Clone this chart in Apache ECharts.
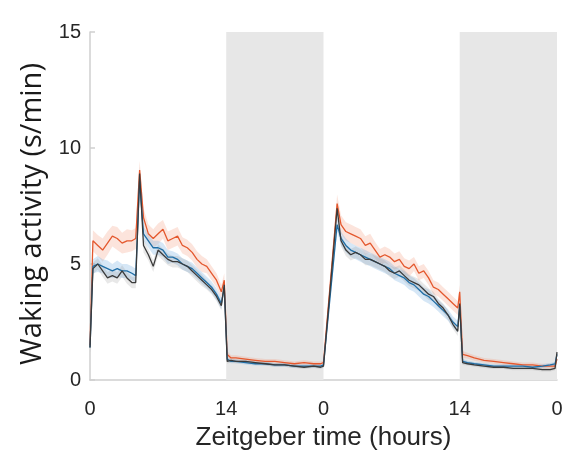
<!DOCTYPE html>
<html>
<head>
<meta charset="utf-8">
<script src="https://cdn.jsdelivr.net/npm/echarts@6/dist/echarts.min.js"></script>
<style>
  html, body { margin: 0; padding: 0; background: #fff; }
  #chart { width: 573px; height: 450px; }
</style>
</head>
<body>
<div id="chart"></div>
<script>
// Zeitgeber time (h) of each sample; two light/dark cycles (lights off 14-24, 38-48)
const hours = [
  0, 0.3, 0.8, 1.3, 1.8, 2.3, 2.8, 3.3, 3.8, 4.3, 4.7, 5.1, 5.5, 6.0, 6.5, 7.0,
  7.5, 8.0, 8.5, 9.0, 9.5, 10.0, 10.5, 11.0, 11.5, 12.0, 12.5, 13.0, 13.5, 13.8, 14.1,
  14.5, 15, 16, 17, 18, 19, 20, 21, 22, 23, 23.7, 24.0,
  25.4, 25.8, 26.3, 26.8, 27.3, 27.8, 28.3, 28.8, 29.3, 29.8, 30.3, 30.8, 31.3, 31.8,
  32.3, 32.8, 33.3, 33.8, 34.3, 34.8, 35.3, 35.8, 36.3, 36.8, 37.3, 37.8, 38.0, 38.3,
  38.8, 39.5, 40.5, 41.5, 42.5, 43.5, 44.5, 45.5, 46.5, 47.3, 47.8, 48.0
];

// Mean waking activity (s/min) per group
const redMean = [
  1.5, 6.0, 5.8, 5.6, 5.9, 6.2, 6.1, 5.9, 6.0, 6.0, 6.1, 9.05, 7.0, 6.3, 6.1, 6.3,
  6.5, 6.0, 6.1, 6.2, 5.8, 5.7, 5.5, 5.2, 5.0, 4.9, 4.6, 4.3, 3.8, 4.3, 1.1,
  0.95, 0.95, 0.9, 0.85, 0.8, 0.8, 0.75, 0.7, 0.75, 0.7, 0.7, 0.75,
  7.6, 6.7, 6.4, 6.3, 6.2, 6.1, 5.8, 5.9, 5.6, 5.3, 5.4, 5.3, 5.1, 5.2,
  4.9, 4.8, 5.0, 4.6, 4.7, 4.4, 4.0, 3.9, 3.7, 3.5, 3.3, 3.1, 3.8, 1.1,
  1.05, 0.95, 0.85, 0.8, 0.75, 0.7, 0.65, 0.65, 0.6, 0.6, 0.6, 0.9
];
const blueMean = [
  1.4, 4.9, 5.0, 4.9, 4.8, 4.7, 4.8, 4.7, 4.7, 4.6, 4.5, 8.6, 6.3, 6.0, 5.7, 5.7,
  5.6, 5.3, 5.3, 5.2, 5.0, 4.9, 4.8, 4.6, 4.4, 4.2, 4.0, 3.7, 3.3, 4.0, 0.9,
  0.8, 0.8, 0.75, 0.7, 0.7, 0.65, 0.65, 0.6, 0.6, 0.6, 0.6, 0.65,
  6.7, 6.1, 5.8, 5.6, 5.5, 5.4, 5.3, 5.2, 5.1, 5.0, 4.9, 4.8, 4.6, 4.5,
  4.4, 4.2, 4.1, 3.9, 3.7, 3.6, 3.4, 3.2, 3.0, 2.8, 2.5, 2.3, 3.2, 0.8,
  0.75, 0.7, 0.65, 0.6, 0.6, 0.6, 0.6, 0.55, 0.6, 0.65, 0.7, 1.1
];
const blackMean = [
  1.4, 4.8, 5.0, 4.7, 4.4, 4.5, 4.4, 4.7, 4.4, 4.2, 4.2, 8.9, 5.8, 5.4, 4.9, 5.6,
  5.4, 5.2, 5.1, 5.1, 5.0, 4.9, 4.7, 4.5, 4.3, 4.1, 3.9, 3.6, 3.2, 4.1, 0.8,
  0.85, 0.8, 0.8, 0.75, 0.7, 0.65, 0.65, 0.6, 0.55, 0.6, 0.55, 0.6,
  7.4, 6.0, 5.6, 5.4, 5.5, 5.4, 5.2, 5.2, 5.1, 5.0, 4.9, 4.7, 4.6, 4.7,
  4.5, 4.3, 4.2, 4.1, 3.9, 3.7, 3.6, 3.3, 3.1, 2.8, 2.4, 2.1, 3.3, 0.75,
  0.7, 0.65, 0.6, 0.55, 0.55, 0.5, 0.5, 0.5, 0.45, 0.45, 0.5, 1.2
];

// Standard error of the mean per group
const redSem = [
  0.3, 0.45, 0.45, 0.5, 0.5, 0.45, 0.5, 0.45, 0.5, 0.45, 0.45, 0.4, 0.4, 0.4, 0.4, 0.45,
  0.4, 0.4, 0.4, 0.4, 0.35, 0.35, 0.35, 0.35, 0.35, 0.3, 0.3, 0.3, 0.3, 0.3, 0.15,
  0.12, 0.12, 0.1, 0.1, 0.1, 0.1, 0.1, 0.1, 0.1, 0.1, 0.1, 0.1,
  0.4, 0.4, 0.4, 0.4, 0.4, 0.4, 0.4, 0.4, 0.35, 0.35, 0.35, 0.35, 0.35, 0.35,
  0.35, 0.35, 0.3, 0.3, 0.3, 0.3, 0.3, 0.3, 0.3, 0.3, 0.3, 0.3, 0.3, 0.15,
  0.12, 0.12, 0.1, 0.1, 0.1, 0.1, 0.1, 0.1, 0.1, 0.1, 0.1, 0.12
];
const blueSem = [
  0.2, 0.3, 0.35, 0.3, 0.35, 0.3, 0.35, 0.3, 0.3, 0.3, 0.3, 0.3, 0.3, 0.3, 0.3, 0.3,
  0.3, 0.3, 0.25, 0.25, 0.25, 0.25, 0.25, 0.25, 0.25, 0.25, 0.25, 0.25, 0.25, 0.25, 0.1,
  0.08, 0.08, 0.08, 0.08, 0.08, 0.08, 0.08, 0.08, 0.08, 0.08, 0.08, 0.08,
  0.3, 0.3, 0.3, 0.3, 0.3, 0.3, 0.3, 0.3, 0.3, 0.3, 0.3, 0.3, 0.3, 0.3,
  0.3, 0.3, 0.3, 0.3, 0.3, 0.3, 0.25, 0.25, 0.25, 0.25, 0.25, 0.25, 0.25, 0.1,
  0.08, 0.08, 0.08, 0.08, 0.08, 0.08, 0.08, 0.08, 0.08, 0.08, 0.08, 0.1
];
const blackSem = [
  0.2, 0.25, 0.25, 0.25, 0.25, 0.25, 0.25, 0.25, 0.25, 0.25, 0.25, 0.3, 0.3, 0.25, 0.25, 0.25,
  0.25, 0.25, 0.25, 0.25, 0.25, 0.25, 0.25, 0.25, 0.25, 0.2, 0.2, 0.2, 0.2, 0.2, 0.1,
  0.08, 0.08, 0.08, 0.08, 0.08, 0.08, 0.08, 0.08, 0.08, 0.08, 0.08, 0.08,
  0.3, 0.25, 0.25, 0.25, 0.25, 0.25, 0.25, 0.25, 0.25, 0.25, 0.25, 0.25, 0.25, 0.25,
  0.25, 0.25, 0.25, 0.25, 0.25, 0.25, 0.2, 0.2, 0.2, 0.2, 0.2, 0.2, 0.2, 0.1,
  0.08, 0.08, 0.08, 0.08, 0.08, 0.08, 0.08, 0.08, 0.08, 0.08, 0.08, 0.1
];

// Dark phases and tick labels
const darkPhases = [[14, 24], [38, 48]];
const tickHours = [0, 14, 24, 38, 48];
const tickLabels = ['0', '14', '0', '14', '0'];

const groups = [
  { key: 'red', mean: redMean, sem: redSem, line: '#e4582e', band: 'rgba(244,150,120,0.26)' },
  { key: 'blue', mean: blueMean, sem: blueSem, line: '#1f6ea6', band: 'rgba(120,175,225,0.30)' },
  { key: 'black', mean: blackMean, sem: blackSem, line: '#3a3a3a', band: 'rgba(140,140,140,0.20)' }
];

const series = [];

// shaded dark phases
series.push({
  type: 'line',
  data: [],
  silent: true,
  z: 0,
  markArea: {
    silent: true,
    itemStyle: { color: '#e7e7e7' },
    data: darkPhases.map(p => [{ xAxis: p[0] }, { xAxis: p[1] }])
  }
});

// SEM bands: one polygon per group, upper edge forward then lower edge back
groups.forEach(g => {
  const rows = hours.map((h, i) => [h, g.mean[i] - g.sem[i], g.mean[i] + g.sem[i]]);
  series.push({
    type: 'custom',
    data: rows,
    encode: { x: 0, y: [1, 2] },
    silent: true,
    z: 1,
    renderItem: (params, api) => {
      if (params.dataIndex !== 0) return null;
      const upper = rows.map(r => api.coord([r[0], r[2]]));
      const lower = rows.map(r => api.coord([r[0], r[1]])).reverse();
      return {
        type: 'polygon',
        shape: { points: upper.concat(lower) },
        style: { fill: g.band, stroke: null }
      };
    }
  });
});

// mean traces
groups.forEach((g, k) => {
  series.push({
    type: 'line',
    data: hours.map((h, i) => [h, g.mean[i]]),
    symbol: 'none',
    lineStyle: { color: g.line, width: 1.3 },
    silent: true,
    z: 2 + k
  });
});

const chart = echarts.init(document.getElementById('chart'), null, { renderer: 'canvas' });
chart.setOption({
  animation: false,
  backgroundColor: '#ffffff',
  grid: { left: 90, right: 16, top: 32, bottom: 70, outerBoundsMode: 'none', containLabel: false },
  xAxis: {
    type: 'value',
    min: 0,
    max: 48,
    interval: 2,
    name: 'Zeitgeber time (hours)',
    nameLocation: 'middle',
    nameGap: 45,
    nameTextStyle: { fontFamily: 'Liberation Sans, Arial, sans-serif', fontSize: 26, color: '#262626' },
    axisLine: { show: true, lineStyle: { color: '#cfcfcf', width: 1.5 } },
    axisTick: { show: false },
    axisLabel: {
      customValues: tickHours,
      formatter: v => tickLabels[tickHours.indexOf(v)] ?? '',
      fontFamily: 'Liberation Sans, Arial, sans-serif',
      fontSize: 20,
      color: '#262626',
      margin: 19
    },
    splitLine: { show: false }
  },
  yAxis: {
    type: 'value',
    min: 0,
    max: 15,
    interval: 5,
    name: 'Waking activity (s/min)',
    nameLocation: 'middle',
    nameGap: 43,
    nameTextStyle: {
      fontFamily: 'Open Sans, Noto Sans, sans-serif',
      fontSize: 29,
      color: '#1a1a1a',
      padding: [0, 16, 0, 0]
    },
    axisLine: { show: true, lineStyle: { color: '#cfcfcf', width: 1.5 } },
    axisTick: { show: true, inside: true, length: 5, lineStyle: { color: '#cfcfcf', width: 1.5 } },
    axisLabel: {
      fontFamily: 'Liberation Sans, Arial, sans-serif',
      fontSize: 20,
      color: '#262626',
      margin: 9
    },
    splitLine: { show: false }
  },
  series: series
});
</script>
</body>
</html>
